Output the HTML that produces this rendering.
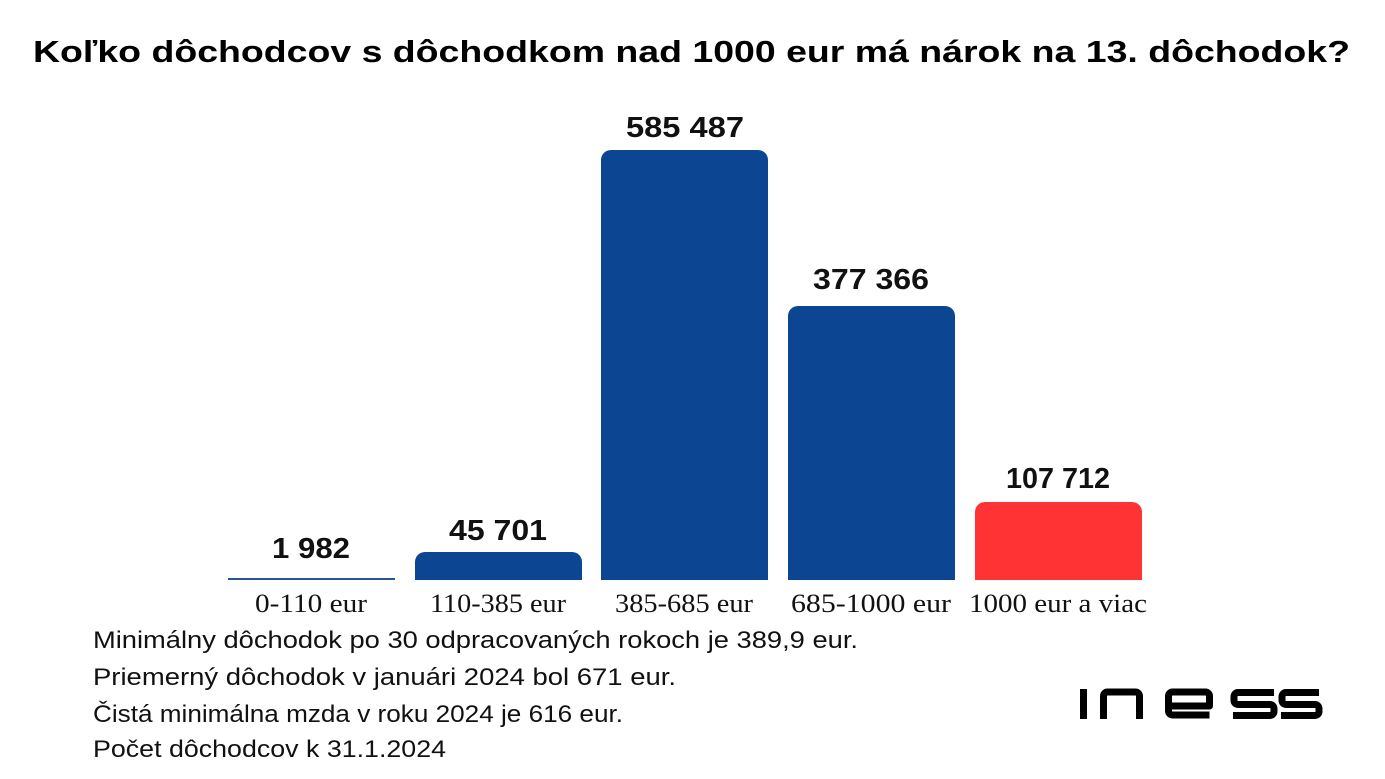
<!DOCTYPE html>
<html><head><meta charset="utf-8"><style>
html,body{margin:0;padding:0;background:#fff;}
svg{display:block;}
.v{font-family:"Liberation Sans",sans-serif;font-weight:bold;font-size:29px;fill:#111;text-anchor:middle;}
.c{font-family:"Liberation Serif",serif;font-size:26px;fill:#111;text-anchor:middle;}
.n{font-family:"Liberation Sans",sans-serif;font-size:24px;fill:#111;}
</style></head><body>
<svg width="1385" height="779" viewBox="0 0 1385 779">
<text x="33" y="62" textLength="1317" lengthAdjust="spacingAndGlyphs" style="font-family:'Liberation Sans',sans-serif;font-weight:bold;font-size:31px;fill:#000">Koľko dôchodcov s dôchodkom nad 1000 eur má nárok na 13. dôchodok?</text>
<rect x="228" y="578" width="167" height="2" fill="#2a5590"/>
<path d="M415 580V562a10 10 0 0 1 10-10H572a10 10 0 0 1 10 10V580Z" fill="#0c4592"/>
<path d="M601 580V160a10 10 0 0 1 10-10H758a10 10 0 0 1 10 10V580Z" fill="#0c4592"/>
<path d="M788 580V316a10 10 0 0 1 10-10H945a10 10 0 0 1 10 10V580Z" fill="#0c4592"/>
<path d="M975 580V512a10 10 0 0 1 10-10H1132a10 10 0 0 1 10 10V580Z" fill="#ff3333"/>
<text class="v" x="311" y="558" textLength="78" lengthAdjust="spacingAndGlyphs">1 982</text>
<text class="v" x="498" y="540" textLength="98" lengthAdjust="spacingAndGlyphs">45 701</text>
<text class="v" x="685" y="137" textLength="118" lengthAdjust="spacingAndGlyphs">585 487</text>
<text class="v" x="871" y="289" textLength="116" lengthAdjust="spacingAndGlyphs">377 366</text>
<text class="v" x="1058" y="488" textLength="104" lengthAdjust="spacingAndGlyphs">107 712</text>
<text class="c" x="311" y="612" textLength="112" lengthAdjust="spacingAndGlyphs">0-110 eur</text>
<text class="c" x="498" y="612" textLength="136" lengthAdjust="spacingAndGlyphs">110-385 eur</text>
<text class="c" x="684" y="612" textLength="138" lengthAdjust="spacingAndGlyphs">385-685 eur</text>
<text class="c" x="871" y="612" textLength="160" lengthAdjust="spacingAndGlyphs">685-1000 eur</text>
<text class="c" x="1058" y="612" textLength="178" lengthAdjust="spacingAndGlyphs">1000 eur a viac</text>
<text class="n" x="93" y="648" textLength="765" lengthAdjust="spacingAndGlyphs">Minimálny dôchodok po 30 odpracovaných rokoch je 389,9 eur.</text>
<text class="n" x="93" y="685" textLength="583" lengthAdjust="spacingAndGlyphs">Priemerný dôchodok v januári 2024 bol 671 eur.</text>
<text class="n" x="93" y="722" textLength="530" lengthAdjust="spacingAndGlyphs">Čistá minimálna mzda v roku 2024 je 616 eur.</text>
<text class="n" x="93" y="757" textLength="353" lengthAdjust="spacingAndGlyphs">Počet dôchodcov k 31.1.2024</text>
<g fill="none" stroke="#000" stroke-width="7" stroke-linejoin="round">
<line x1="1083.5" y1="689" x2="1083.5" y2="719"/>
<path d="M1103.5 719V696a4 4 0 0 1 4-4h28a4 4 0 0 1 4 4V719"/>
<path d="M1168.5 706h41v-10a4 4 0 0 0-4-4h-33a4 4 0 0 0-4 4v15a4 4 0 0 0 4 4h37"/>
<path d="M1274 692.5h-36a4 4 0 0 0-4 4v4a4 4 0 0 0 4 4h32a4 4 0 0 1 4 4v3a4 4 0 0 1-4 4h-37"/>
<path d="M1319 692.5h-33a4 4 0 0 0-4 4v4a4 4 0 0 0 4 4h29a4 4 0 0 1 4 4v3a4 4 0 0 1-4 4h-34"/>
</g>
</svg>
</body></html>
